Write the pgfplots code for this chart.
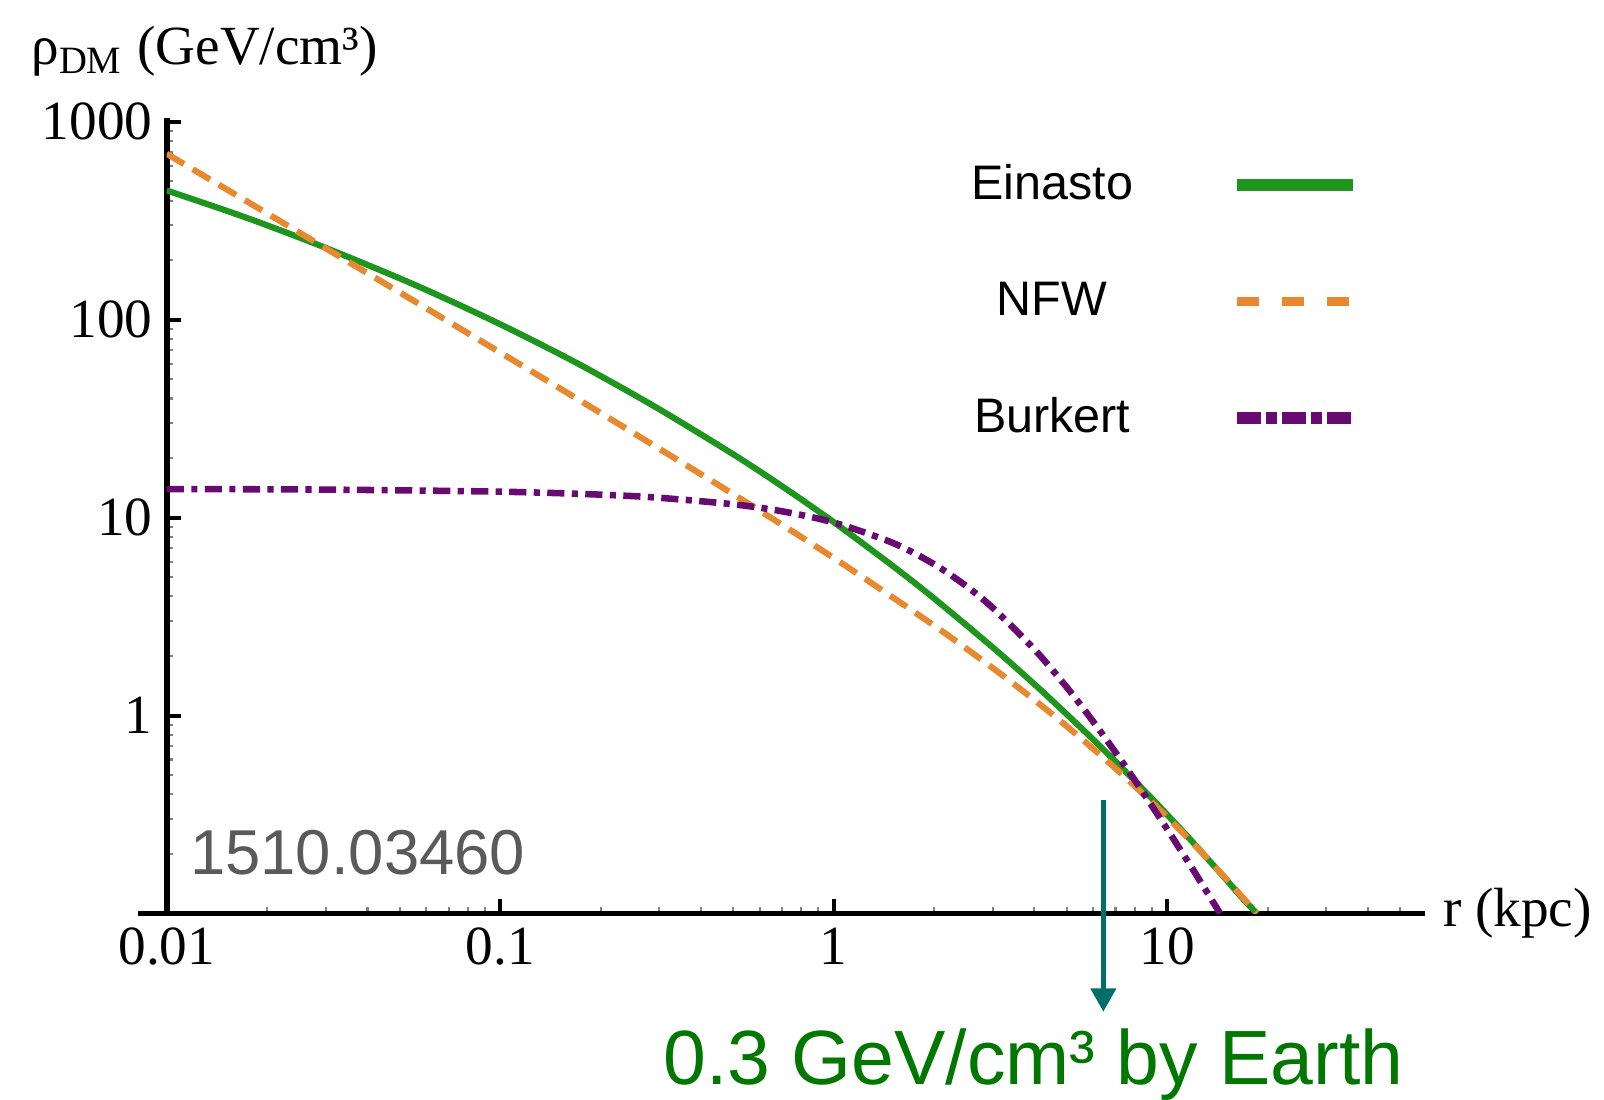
\documentclass[border=0pt]{standalone}
\usepackage{fontspec}
\setmainfont{Liberation Serif}
\newfontfamily\helv{Liberation Sans}
\usepackage{pgfplots}
\pgfplotsset{compat=1.18}
\usetikzlibrary{arrows.meta}
\definecolor{ein}{RGB}{30,150,30}
\definecolor{nfw}{RGB}{232,137,48}
\definecolor{bur}{RGB}{105,10,115}
\definecolor{arrowteal}{RGB}{0,110,105}
\definecolor{annot}{RGB}{0,120,0}
\definecolor{idgray}{RGB}{90,90,90}
\begin{document}
\begin{tikzpicture}
\useasboundingbox (-40.75pt,-45.5pt) rectangle (351.25pt,223.25pt);
\begin{axis}[
  at={(0pt,0pt)}, anchor=south west, scale only axis,
  width=307.5pt, height=194.5pt,
  xmode=log, ymode=log,
  xmin=0.01, xmax=59.3, ymin=0.1, ymax=1050,
  axis x line*=bottom, axis y line*=left,
  axis line style={line width=1.4pt, black},
  tick align=inside,
  major tick length=3.6pt, minor tick length=1.6pt,
  every major tick/.style={line width=1pt, black},
  every minor tick/.style={line width=0.5pt, gray},
  xtick={0.01,0.1,1,10}, xticklabels={0.01,0.1,1,10},
  ytick={1,10,100,1000}, yticklabels={1,10,100,1000},
  minor xtick={0.02,0.03,0.04,0.05,0.06,0.07,0.08,0.09,0.2,0.3,0.4,0.5,0.6,0.7,0.8,0.9,2,3,4,5,6,7,8,9,20,30,40,50},
  minor ytick={0.2,0.3,0.4,0.5,0.6,0.7,0.8,0.9,2,3,4,5,6,7,8,9,20,30,40,50,60,70,80,90,200,300,400,500,600,700,800,900},
  /pgf/number format/assume math mode=true,
  tick label style={font=\fontsize{13.5}{16}\selectfont},
  legend plot pos=right,
  legend cell align=center,
  legend image code/.code={\draw[#1] (0pt,0pt) -- (28.25pt,0pt);},
  legend style={draw=none, fill=none, at={(0.790,0.769)}, anchor=center,
    font=\helv\fontsize{11.85}{14}\selectfont, row sep=14.6pt, column sep=22pt},
]
\addplot[ein, line width=1.5pt, smooth, forget plot] coordinates {
(0.01,450) (0.015,357) (0.02,300) (0.03,230.7) (0.05,161.8) (0.07,125.8)
(0.1,94.9) (0.15,67.4) (0.2,52.0) (0.3,35.3) (0.5,20.9) (0.7,14.42)
(1,9.5) (1.5,5.72) (2,3.91) (3,2.21) (4,1.44) (5,1.015) (6,0.757)
(7,0.586) (8,0.467) (9,0.381) (10,0.316) (11,0.266) (12,0.227) (13,0.195)
(14,0.170) (15,0.149) (16,0.1316) (17,0.117) (18.6,0.1)
};
\addplot[nfw, line width=1.5pt, dash pattern=on 4.9pt off 2.5pt, smooth, forget plot] coordinates {
(0.01,689.3) (0.02,344.7) (0.05,137.3) (0.1,68.3) (0.2,33.8) (0.5,13.14)
(1,6.26) (2,2.85) (3,1.739) (4,1.198) (5,0.883) (6,0.680) (7,0.541)
(8,0.440) (10,0.307) (12,0.2246) (14,0.1705) (16,0.1331) (18.56,0.1)
};
\addplot[bur, line width=1.6pt, dash pattern=on 4.2pt off 1.8pt on 1.5pt off 1.8pt, smooth, forget plot] coordinates {
(0.01,13.95) (0.03,13.86) (0.1,13.53) (0.2,13.07) (0.3,12.60) (0.5,11.68)
(0.7,10.77) (1,9.45) (1.5,7.47) (2,5.82) (2.5,4.507) (3,3.5) (4,2.16)
(5,1.39) (6,0.933) (7,0.652) (8,0.471) (9,0.35) (10,0.267) (11,0.2077)
(12,0.165) (13,0.1327) (14.42,0.1)
};
\addlegendimage{ein, line width=2.8pt}
\addlegendentry{Einasto}
\addlegendimage{nfw, line width=2.4pt, dash pattern=on 5.5pt off 5.5pt}
\addlegendentry{NFW}
\addlegendimage{bur, line width=2.8pt, dash pattern=on 5.9pt off 1.2pt on 2.7pt off 1.2pt}
\addlegendentry{Burkert}
\end{axis}
\draw[line width=1.4pt] (-7pt,0pt) -- (0.7pt,0pt);
\node[anchor=base west, inner sep=0pt, font=\fontsize{13.5}{16}\selectfont] at (-33.25pt,207.4pt) {ρ\textsubscript{DM} (GeV/cm³)};
\node[anchor=base west, inner sep=0pt, font=\fontsize{13.5}{16}\selectfont] at (311.75pt,-3.25pt) {r (kpc)};
\node[anchor=base west, inner sep=0pt, text=idgray, font=\helv\fontsize{15.5}{18}\selectfont] at (5.5pt,9.5pt) {1510.03460};
\draw[arrowteal, line width=1.1pt, -{Triangle[width=6.1pt,length=5.7pt]}] (228.9pt,27.75pt) -- (228.9pt,-24pt);
\node[anchor=base west, inner sep=0pt, text=annot, font=\helv\fontsize{18.8}{22}\selectfont] at (121.25pt,-41.75pt) {0.3 GeV/cm³ by Earth};
\end{tikzpicture}
\end{document}
